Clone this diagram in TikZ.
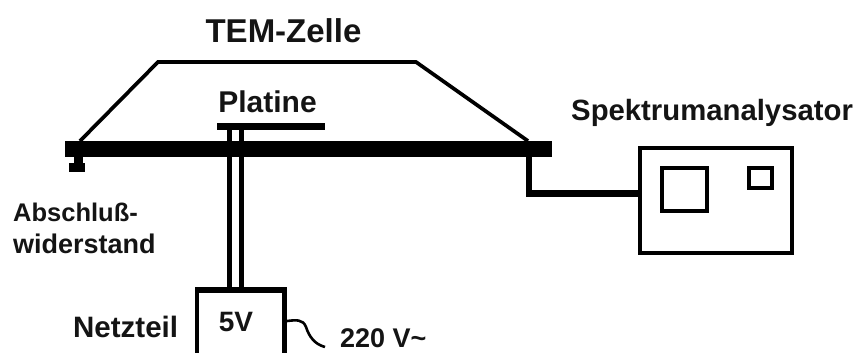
\documentclass[tikz,border=0pt]{standalone}
\usepackage{fontspec}
\setmainfont{Liberation Sans}
\tikzset{
  lbl/.style={font=\bfseries\fontsize{#1}{#1}\selectfont, inner sep=0pt, text=black!92},
  solidpart/.style={fill=black, draw=none},
  thick box/.style={draw=black, line width=4pt, fill=none, inner sep=0pt, outer sep=0pt, anchor=north west},
}
\begin{document}
\begin{tikzpicture}[x=1pt,y=-1pt]
\useasboundingbox (0,0) rectangle (856,353);
\fill[white] (0,0) rectangle (856,353);
% TEM cell
\coordinate (tl) at (80,141);
\coordinate (t1) at (158,62);
\coordinate (t2) at (416,62);
\coordinate (tr) at (528,141);
\draw[line width=3.7pt,line join=miter] (tl) -- (t1) -- (t2) -- (tr);
% Platine legs
\coordinate (leg1a) at (229.5,126); \coordinate (leg1b) at (229.5,290);
\coordinate (leg2a) at (241.5,126); \coordinate (leg2b) at (241.5,290);
\draw[line width=5pt] (leg1a) -- (leg1b);
\draw[line width=5pt] (leg2a) -- (leg2b);
\fill[solidpart] (217,123) rectangle (325,130);
% Bar
\node[solidpart, minimum width=487pt, minimum height=15.5pt, inner sep=0pt, outer sep=0pt, anchor=north west] (bar) at (65,141) {};
% Terminator
\fill[solidpart] (74,156) rectangle (83,164);
\fill[solidpart] (69,163) rectangle (85,172);
% Analyzer
\node[thick box, minimum width=152pt, minimum height=105pt] (sa) at (640,148) {};
\node[thick box, minimum width=45pt, minimum height=43pt] (screen) at (662,168) {};
\node[thick box, minimum width=23pt, minimum height=20pt] (knob) at (749,168) {};
\coordinate (cableTop) at (529,156);
\coordinate (cableEnd) at (638,193.5);
\draw[line width=6.5pt] (cableTop) |- (sa.west |- cableEnd);
% Power supply
\fill[solidpart] (195,287) rectangle (287,293);
\fill[solidpart] (195,287) rectangle (199,353);
\fill[solidpart] (281.5,287) rectangle (287,353);
\coordinate (psu) at (287,321);
\coordinate (mains) at (325,347);
\draw[line width=2.6pt] (psu) .. controls (296,320) and (303,319) .. (306,327) .. controls (309,336) and (314,344) .. (mains);
% Labels
\node[lbl=33] (tem) at (283.5,31) {TEM-Zelle};
\node[lbl=30] (plat) at (267.5,102) {Platine};
\node[lbl=29.3, anchor=west] (spek) at (571,113) {Spektrumanalysator};
\node[lbl=25.5, anchor=west] (abs) at (13,212) {Abschluß-};
\node[lbl=27, anchor=west] (wid) at (13,244) {widerstand};
\node[lbl=29.5, anchor=west] (net) at (73,327) {Netzteil};
\node[lbl=28] (fv) at (236,322.5) {5V};
\node[lbl=27, anchor=base west] (volt) at (340,347) {220 V\textasciitilde};
\end{tikzpicture}
\end{document}
